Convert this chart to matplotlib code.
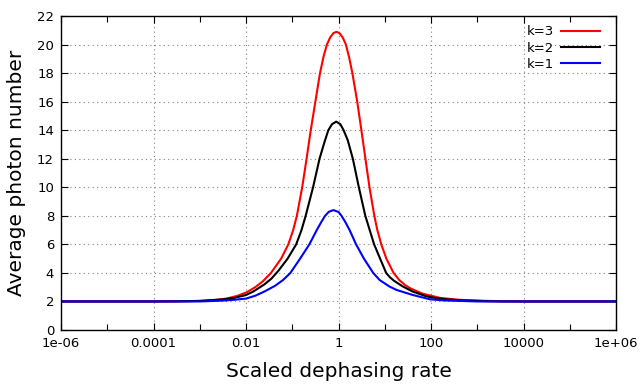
import numpy as np
import matplotlib
matplotlib.use("Agg")
import matplotlib.pyplot as plt
from matplotlib.ticker import FixedLocator, NullFormatter

# ---- data (log10 of scaled dephasing rate, average photon number) ----
k3_logx = [-6.0, -5.0, -4.0, -3.4, -2.95, -2.65, -2.42, -2.18, -1.98, -1.80, -1.64, -1.46,
           -1.24, -1.085, -0.98, -0.9, -0.785, -0.69, -0.60, -0.50, -0.40, -0.32,
           -0.25, -0.18, -0.11, -0.045, 0.02, 0.09, 0.16, 0.23, 0.30, 0.405, 0.495,
           0.582, 0.67, 0.775, 0.84, 0.925, 1.035, 1.19, 1.315, 1.44, 1.565, 1.815,
           2.19, 2.60, 3.20, 4.0, 5.0, 6.0]
k3_y = [2.0, 2.0, 2.0, 2.01, 2.04, 2.1, 2.2, 2.4, 2.65, 3.0, 3.4, 4.0,
        5.0, 6.0, 7.0, 8.0, 10.0, 12.0, 14.0, 16.0, 18.0, 19.2,
        20.0, 20.5, 20.8, 20.89, 20.8, 20.5, 20.0, 19.1, 18.0, 16.0, 14.0,
        12.0, 10.0, 8.0, 7.0, 6.0, 5.0, 4.0, 3.5, 3.15, 2.9, 2.55,
        2.25, 2.12, 2.04, 2.0, 2.0, 2.0]

k2_logx = [-6.0, -5.0, -4.0, -3.5, -3.0, -2.5, -2.25, -2.0, -1.84, -1.6, -1.45, -1.3,
           -1.1, -0.915, -0.8, -0.71, -0.55, -0.41, -0.30, -0.22, -0.14, -0.05, 0.04,
           0.11, 0.20, 0.31, 0.44, 0.58, 0.77, 0.90, 1.03, 1.11, 1.20, 1.39, 1.60,
           1.86, 1.98, 2.30, 2.70, 3.20, 3.5, 5.0, 6.0]
k2_y = [2.0, 2.0, 2.0, 2.01, 2.04, 2.15, 2.25, 2.45, 2.7, 3.2, 3.6, 4.15,
        5.0, 6.0, 7.0, 8.0, 10.0, 12.0, 13.2, 14.0, 14.42, 14.6, 14.42,
        14.0, 13.3, 12.0, 10.0, 8.0, 6.0, 5.0, 4.0, 3.7, 3.45, 3.05, 2.7,
        2.4, 2.3, 2.15, 2.07, 2.02, 2.0, 2.0, 2.0]

k1_logx = [-6.0, -5.0, -4.0, -3.0, -2.5, -2.25, -2.0, -1.8, -1.6, -1.37, -1.2, -1.04,
           -0.83, -0.63, -0.47, -0.375, -0.29, -0.21, -0.11, 0.0, 0.065, 0.15, 0.24,
           0.38, 0.55, 0.75, 0.89, 1.10, 1.26, 1.61, 1.98, 2.30, 2.70, 3.0, 5.0, 6.0]
k1_y = [2.0, 2.0, 2.0, 2.0, 2.06, 2.12, 2.2, 2.4, 2.7, 3.1, 3.5, 4.0,
        5.0, 6.0, 7.0, 7.55, 8.0, 8.28, 8.4, 8.27, 8.0, 7.55, 7.0,
        6.0, 5.0, 4.0, 3.5, 3.05, 2.8, 2.45, 2.15, 2.07, 2.03, 2.0, 2.0, 2.0]

series = [("k=3", k3_logx, k3_y, "#ff0000"),
          ("k=2", k2_logx, k2_y, "#000000"),
          ("k=1", k1_logx, k1_y, "#0000ff")]

xtick_vals = [1e-6, 1e-4, 1e-2, 1, 1e2, 1e4, 1e6]
xtick_labels = ["1e-06", "0.0001", "0.01", "1", "100", "10000", "1e+06"]
xminor_vals = [1e-5, 1e-3, 1e-1, 1e1, 1e3, 1e5]
ytick_vals = list(range(0, 23, 2))

plt.rcParams["font.family"] = ["DejaVu Sans"]
fig = plt.figure(figsize=(6.4, 3.84), dpi=100)
ax = fig.add_axes([61/640, 1-330/384, (616-61)/640, (330-16)/384])

for label, lx, y, c in series:
    ax.plot(10**np.array(lx), y, color=c, lw=1.5, label=label,
            solid_joinstyle="round")

ax.set_xscale("log")
ax.set_xlim(1e-6, 1e6)
ax.set_ylim(0, 22)
ax.xaxis.set_major_locator(FixedLocator(xtick_vals))
ax.set_xticklabels(xtick_labels)
ax.xaxis.set_minor_locator(FixedLocator(xminor_vals))
ax.xaxis.set_minor_formatter(NullFormatter())
ax.set_yticks(ytick_vals)
ax.tick_params(which="both", direction="in", top=True, right=True, labelsize=9.5, pad=5)
ax.tick_params(which="major", length=5, width=0.8)
ax.tick_params(which="minor", length=4, width=0.8)
ax.grid(True, which="major", linestyle=(0, (1, 3)), color="#808080", linewidth=0.8)
for s in ax.spines.values():
    s.set_linewidth(1.0)

ax.set_xlabel("Scaled dephasing rate", fontsize=14.5, labelpad=9)
ax.set_ylabel("Average photon number", fontsize=14.5, labelpad=8)

leg = ax.legend(loc="upper right", bbox_to_anchor=(0.988, 1.0), frameon=False,
                markerfirst=False, fontsize=9.5, handlelength=3.0,
                handletextpad=0.5, labelspacing=0.25, borderaxespad=0.3)

fig.savefig("out.png", dpi=100)
